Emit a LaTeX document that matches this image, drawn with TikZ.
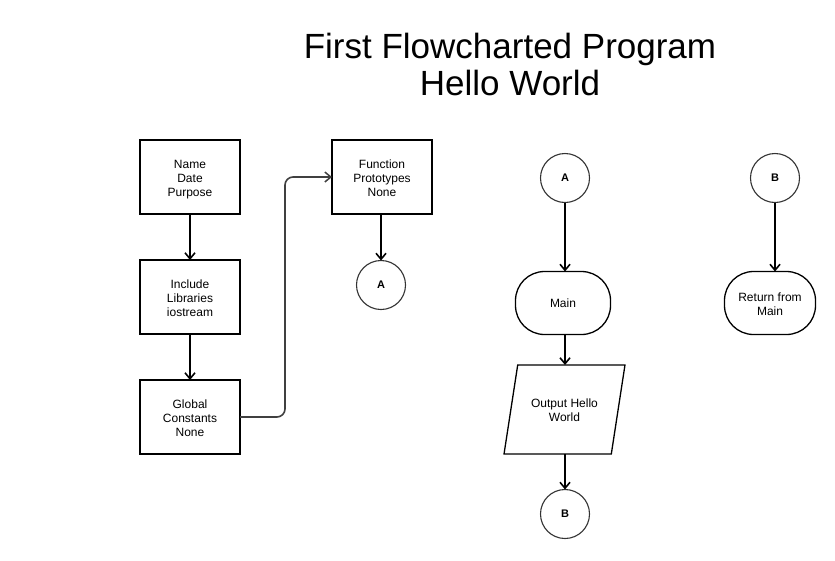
\documentclass[tikz,border=0pt]{standalone}
\usepackage{fontspec}
\setmainfont{Liberation Sans}
\usetikzlibrary{arrows.meta,shapes.geometric}
\newcommand{\mylines}[1]{\raisebox{-2.5pt}[\height][\depth]{\begin{tabular}{@{}c@{}}#1\end{tabular}}}
\begin{document}
\begin{tikzpicture}[x=1pt,y=-1pt,
  every node/.style={inner sep=0pt,outer sep=0pt},
  txt/.style={align=center,font=\fontsize{12}{14}\selectfont},
  proc/.style={draw=black,line width=1.4pt,minimum width=100pt,minimum height=74pt,txt},
  conn/.style={circle,draw=black!80,line width=1.1pt,minimum size=49pt,font=\bfseries\fontsize{11}{13}\selectfont},
  term/.style={draw=black,line width=1.3pt,rounded corners=29pt,minimum height=63pt,txt},
  io/.style={trapezium,trapezium left angle=70.8,trapezium right angle=109.2,trapezium stretches=true,draw=black,line width=1.3pt,minimum width=121pt,minimum height=89pt,txt},
  arr/.style={-{Straight Barb[length=6pt,width=10pt,line width=1.6pt]},line width=1.7pt,black},
  titlefont/.style={font=\fontsize{35}{37}\selectfont}
]
\useasboundingbox[fill=white] (0,0) rectangle (835,560);

\node[titlefont,anchor=base] (t1) at (510,58) {First Flowcharted Program};
\node[titlefont,anchor=base] (t2) at (510,95) {Hello World};

\node[proc] (nm) at (190,177) {\mylines{Name\\Date\\Purpose}};
\node[proc] (inc) at (190,297) {\mylines{Include\\Libraries\\iostream}};
\node[proc] (glb) at (190,417) {\mylines{Global\\Constants\\None}};
\node[proc] (fn) at (382,177) {\mylines{Function\\Prototypes\\None}};
\node[conn] (a1) at (381,285) {A};

\node[conn] (a2) at (565,178) {A};
\node[term,minimum width=95pt] (mn) at (563,303) {Main};
\node[io] (outp) at (564.5,409.5) {\mylines{Output Hello\\World}};
\node[conn] (b1) at (565,514) {B};

\node[conn] (b2) at (775,178) {B};
\node[term,minimum width=91pt] (ret) at (770,303) {\mylines{Return from\\Main}};

\draw[arr] (nm) -- (inc);
\draw[arr] (inc) -- (glb);
\draw[arr] (a1 |- fn.south) -- (a1);
\draw[-{Straight Barb[length=6pt,width=10pt,line width=1.5pt]},black!75,line width=1.6pt,rounded corners=8pt] (glb.east) -- ++(45,0) |- (fn.west);
\draw[arr] (a2) -- (a2 |- mn.north);
\draw[arr] (a2 |- mn.south) -- (a2 |- outp.north);
\draw[arr] (a2 |- outp.south) -- (b1);
\draw[arr] (b2) -- (b2 |- ret.north);
\end{tikzpicture}
\end{document}
